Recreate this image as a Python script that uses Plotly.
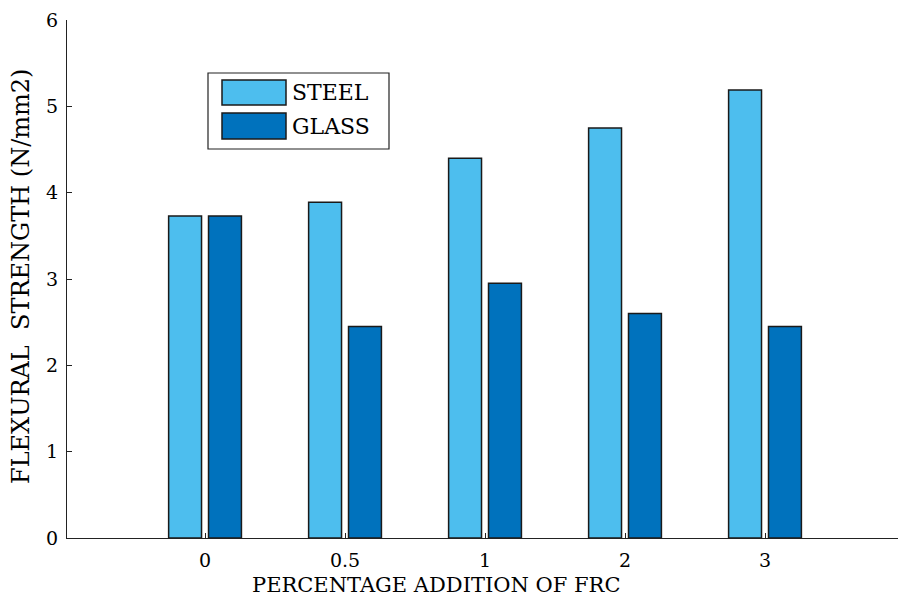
import plotly.graph_objects as go

categories = ["0", "0.5", "1", "2", "3"]
steel = [3.73, 3.89, 4.40, 4.75, 5.19]
glass = [3.73, 2.45, 2.95, 2.60, 2.45]
series_names = ["STEEL", "GLASS"]
colors = ["#4DBEEE", "#0072BD"]
y_ticks = [0, 1, 2, 3, 4, 5, 6]
x_title = "PERCENTAGE ADDITION OF FRC"
y_title = "FLEXURAL  STRENGTH (N/mm2)"

FONT = "DejaVu Serif"
idx = list(range(len(categories)))

fig = go.Figure()
for name, vals, col in zip(series_names, [steel, glass], colors):
    fig.add_trace(go.Bar(
        x=idx, y=vals, name=name,
        marker=dict(color=col, line=dict(color="#1a1a1a", width=1.5)),
        showlegend=False,
    ))

# page layout (body margin removed by post_script)
W, H = 898, 603
L, R, T, B = 67, 898, 20, 538   # plot area in page pixels
def px(x): return (x - L) / (R - L)
def py(y): return (B - y) / (B - T)

shapes = [dict(type="rect", xref="paper", yref="paper",
               x0=px(208), x1=px(389), y0=py(149), y1=py(73),
               line=dict(color="#222", width=1.2), fillcolor="white", layer="above")]
patch_rows = [(80, 105), (113, 139)]
annotations = []
for (top, bot), name, col in zip(patch_rows, series_names, colors):
    shapes.append(dict(type="rect", xref="paper", yref="paper",
                       x0=px(222), x1=px(286), y0=py(bot), y1=py(top),
                       line=dict(color="#1a1a1a", width=1.5), fillcolor=col, layer="above"))
    annotations.append(dict(xref="paper", yref="paper", x=px(290), y=py((top + bot) / 2),
                            text=name, showarrow=False, xanchor="left", yanchor="middle",
                            font=dict(family=FONT, size=22, color="black")))

annotations.append(dict(xref="paper", yref="paper", x=px(436), y=py(585),
                        text=x_title, showarrow=False, xanchor="center", yanchor="middle",
                        font=dict(family=FONT, size=21, color="black")))
annotations.append(dict(xref="paper", yref="paper", x=px(21), y=py(277),
                        text=y_title, showarrow=False, textangle=-90,
                        xanchor="center", yanchor="middle",
                        font=dict(family=FONT, size=24, color="black")))

fig.update_layout(
    width=W, height=H,
    margin=dict(l=L, r=W - R, t=T, b=H - B, pad=0),
    paper_bgcolor="white", plot_bgcolor="white",
    barmode="group", bargap=0.43, bargroupgap=0.175,
    font=dict(family=FONT, color="black", size=19),
    shapes=shapes, annotations=annotations,
    xaxis=dict(
        range=[-0.986, 4.95], tickvals=idx, ticktext=categories,
        showline=True, linecolor="#222", linewidth=1.2,
        ticks="inside", ticklen=5, tickcolor="#222",
        showgrid=False, zeroline=False, automargin=False,
        tickfont=dict(family=FONT, size=19), ticklabelstandoff=5,
    ),
    yaxis=dict(
        range=[0, 6], tickvals=y_ticks,
        showline=True, linecolor="#222", linewidth=1.2,
        ticks="inside", ticklen=5, tickcolor="#222",
        showgrid=False, zeroline=False, automargin=False,
        tickfont=dict(family=FONT, size=19), ticklabelstandoff=4,
    ),
)

fig.write_html("out.html",
               config={"displayModeBar": False},
               post_script="document.body.style.margin='0';document.body.style.overflow='hidden';")
